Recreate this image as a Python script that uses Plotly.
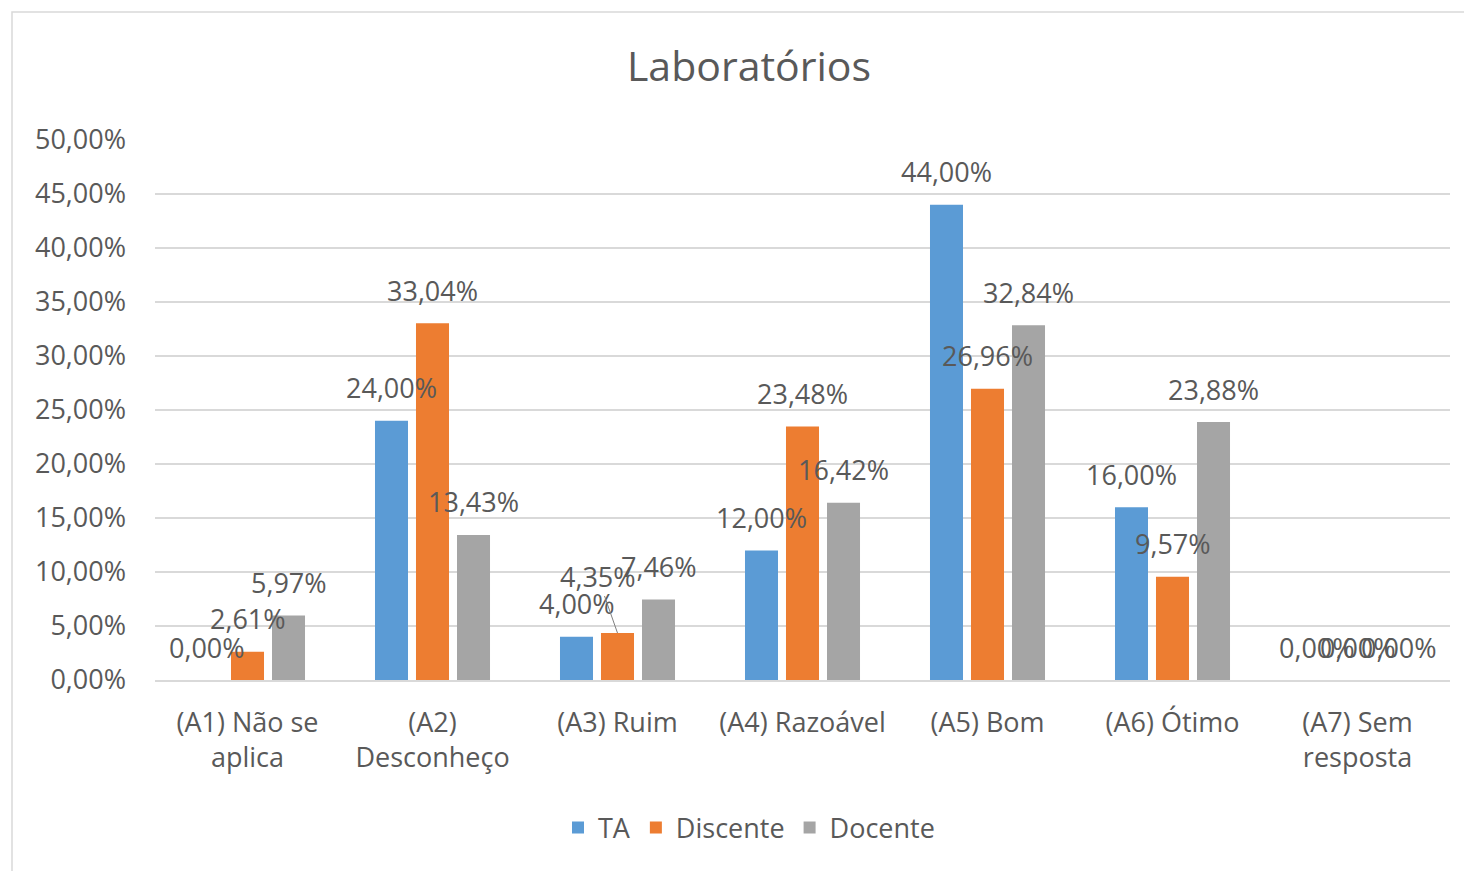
import plotly.graph_objects as go

categories = ["(A1) Não se<br>aplica", "(A2)<br>Desconheço", "(A3) Ruim", "(A4) Razoável",
              "(A5) Bom", "(A6) Ótimo", "(A7) Sem<br>resposta"]
series_names = ["TA", "Discente", "Docente"]
ta = [0.00, 24.00, 4.00, 12.00, 44.00, 16.00, 0.00]
discente = [2.61, 33.04, 4.35, 23.48, 26.96, 9.57, 0.00]
docente = [5.97, 13.43, 7.46, 16.42, 32.84, 23.88, 0.00]
colors = ["#5B9BD5", "#ED7D31", "#A5A5A5"]
y_ticks = [0, 5, 10, 15, 20, 25, 30, 35, 40, 45, 50]

TXT = "#595959"
FONT = "Open Sans"
FS = 27

# page has an 8px body margin: figure origin sits at (8, 8) in the screenshot
OFF = 8
W, H = 1472, 871
L, R, T, B = 155 - OFF, 1472 - 1450 + OFF, 140 - OFF, 871 - 680 + OFF
pw = W - L - R
ph = H - T - B

def fmt(v):
    return f"{v:.2f}".replace(".", ",") + "%"

fig = go.Figure()
all_series = [ta, discente, docente]
for name, vals, c in zip(series_names, all_series, colors):
    fig.add_trace(go.Bar(name=name, x=categories, y=vals, marker=dict(color=c, line=dict(width=0))))

offsets = [-41, 0, 41]
annotations = []
for si, vals in enumerate(all_series):
    for ci, v in enumerate(vals):
        if si == 1 and ci == 2:
            annotations.append(dict(x=categories[ci], y=v, text=fmt(v), showarrow=True,
                                    arrowhead=0, arrowwidth=1, arrowcolor="#7f7f7f",
                                    ax=-20, ay=-57, font=dict(family=FONT, size=FS, color=TXT),
                                    standoff=0))
        else:
            annotations.append(dict(x=categories[ci], y=v, text=fmt(v), showarrow=False,
                                    xshift=offsets[si], yshift=33, yanchor="middle",
                                    font=dict(family=FONT, size=FS, color=TXT)))

plot_cx = 749 - OFF
fig.update_layout(
    width=W, height=H,
    margin=dict(l=L, r=R, t=T, b=B, autoexpand=False),
    paper_bgcolor="white", plot_bgcolor="white",
    barmode="group", bargap=0.335, bargroupgap=0.195,
    separators=",.",
    font=dict(family=FONT, size=FS, color=TXT),
    title=dict(text="Laboratórios", x=plot_cx / W, xref="container", xanchor="center",
               y=1 - (67 - OFF) / H, yref="container", yanchor="middle",
               font=dict(family=FONT, size=41, color=TXT)),
    legend=dict(orientation="h", x=(plot_cx - L) / pw, xanchor="center",
                y=(680 - 828) / ph, yanchor="middle",
                font=dict(family=FONT, size=FS, color=TXT), itemwidth=30, traceorder="normal"),
    annotations=annotations,
    showlegend=True,
)
fig.update_yaxes(range=[0, 50], tickvals=y_ticks, ticktext=[fmt(v) for v in y_ticks],
                 showgrid=True, gridcolor="#D9D9D9", gridwidth=1.5, zeroline=False,
                 showline=False, ticks="", ticklabelstandoff=28,
                 tickfont=dict(family=FONT, size=FS, color=TXT))
fig.update_xaxes(showline=True, linecolor="#D9D9D9", linewidth=1.5, ticks="",
                 ticklabelstandoff=18, tickfont=dict(family=FONT, size=FS, color=TXT))

# chart frame border
fig.add_shape(type="rect", xref="paper", yref="paper",
              x0=(12 - 155) / pw, x1=(W + 20 - 155) / pw,
              y0=(680 - (H + 20)) / ph, y1=(680 - 12) / ph,
              line=dict(color="#D9D9D9", width=1.5), fillcolor="rgba(0,0,0,0)", layer="below")

fig.write_html("out.html")
